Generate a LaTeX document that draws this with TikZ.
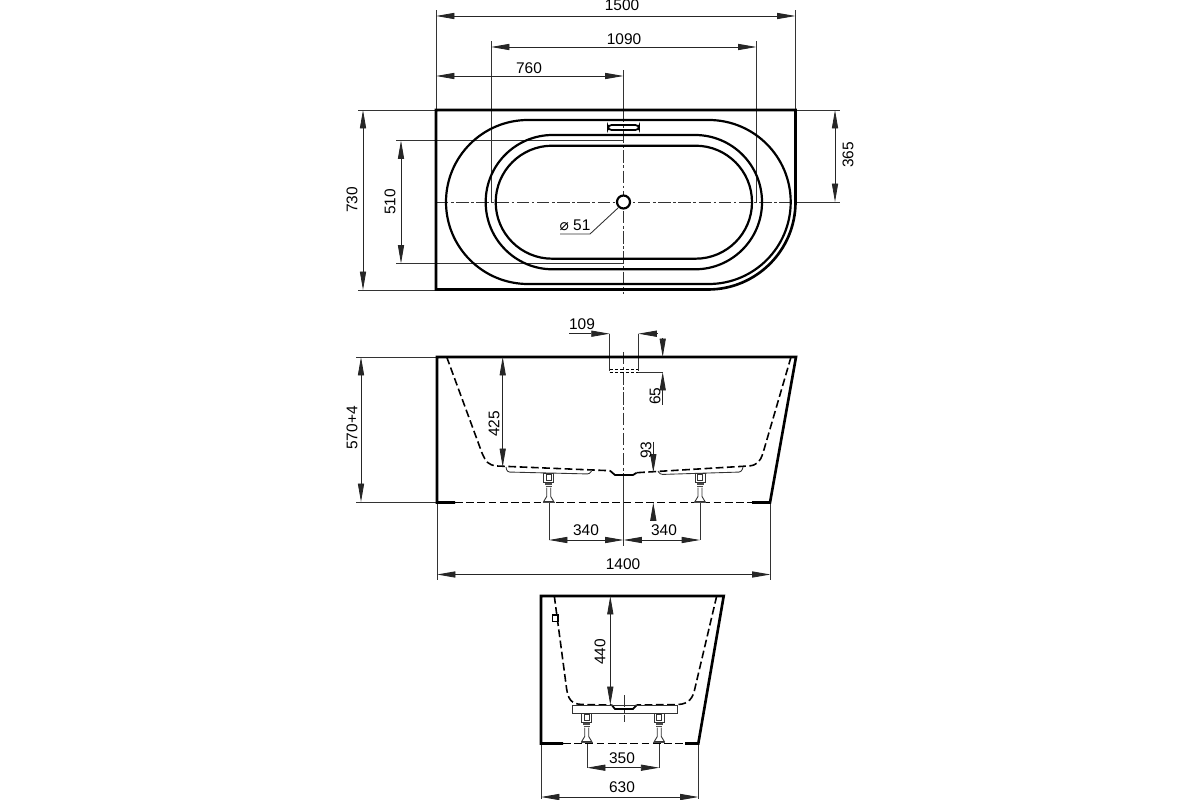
\documentclass[tikz,border=0pt]{standalone}
\usepackage{fontspec}
\setmainfont{Liberation Sans}
\newfontfamily\symfont{DejaVu Sans}
\usetikzlibrary{arrows.meta}

\tikzstyle{outline} = [draw=black, line width=1.5pt, line join=miter]
\tikzstyle{rim} = [draw=black, line width=1.25pt]
\tikzstyle{hidden} = [draw=black, line width=0.9pt, dash pattern=on 4.4pt off 2pt]
\tikzstyle{thinline} = [draw=black!80, line width=0.5pt]
\tikzstyle{centerline} = [draw=black!80, line width=0.5pt,
  dash pattern=on 7pt off 1.5pt on 1.5pt off 1.5pt]
\tikzstyle{dimline} = [draw=black!85, line width=0.5pt,
  {Triangle[length=10.5pt,width=3.5pt]}-{Triangle[length=10.5pt,width=3.5pt]}]
\tikzstyle{tipend} = [draw=black!85, line width=0.5pt,
  -{Triangle[length=10.5pt,width=3.5pt]}]
\tikzstyle{dimtext} = [font=\fontsize{8.8}{10}\selectfont, inner sep=0pt, text=black]

% one foot below the bath, #1 = x, #2 = y of its top
\newcommand{\bathfoot}[2]{
  \begin{scope}[shift={(#1,#2)}]
    \draw[thinline] (-5,0) rectangle (5,9);
    \draw[thinline] (-2.5,1) rectangle (2.5,7);
    \draw[draw=black!70, line width=1pt] (-3.5,10.5) -- (3.5,10.5);
    \draw[draw=black!70, line width=1pt] (-3,13) -- (3,13);
    \draw[thinline] (-2,14) -- (-2,23) -- (-5,28) -- (5,28) -- (2,23) -- (2,14);
    \draw[draw=black!70, line width=1pt] (-6,29) -- (6,29);
  \end{scope}
}

\begin{document}
\begin{tikzpicture}[x=0.02cm,y=-0.02cm]
        \useasboundingbox (0,0) rectangle (1200,800);

        % top view
        \draw[thinline] (436,110) -- (436,10);
        \draw[thinline] (795.5,110) -- (795.5,10);
        \draw[thinline] (491,202) -- (491,41);
        \draw[thinline] (756.5,202) -- (756.5,41);
        \draw[thinline] (623.5,110) -- (623.5,70);
        \draw[thinline] (436,110) -- (358,110);
        \draw[thinline] (436,290) -- (358,290);
        \draw[thinline] (623.5,140.5) -- (396,140.5);
        \draw[thinline] (623.5,263.5) -- (396,263.5);
        \draw[thinline] (795.5,110) -- (840,110);
        \draw[thinline] (795.5,202) -- (840,202);
        \draw[centerline] (436,202) -- (795.5,202);
        \draw[centerline] (623.5,110) -- (623.5,294);

        \draw[outline] (436,110) -- (795.5,110) -- (795.5,202)
          .. controls (795.5,250.3) and (756.3,289.5) .. (708,289.5) -- (436,289.5) -- cycle;
        \draw[rim, rounded corners=1.64cm] (446,120) rectangle (790.7,284);
        \draw[rim, rounded corners=1.34cm] (485.7,135) rectangle (762,269.3);
        \draw[rim, rounded corners=1.13cm] (495.7,145.7) rectangle (752,258.7);
        \draw[rim, line width=1pt, rounded corners=2pt] (608,125) rectangle (639,130);
        \draw[rim, fill=white] (623.5,202) circle (6.5);

        \draw[dimline] (436,16) -- (795.5,16);
        \draw[dimline] (491,47) -- (756.5,47);
        \draw[dimline] (436,76) -- (623.5,76);
        \draw[dimline] (363,110) -- (363,290);
        \draw[dimline] (401,140.5) -- (401,263.5);
        \draw[dimline] (835,110) -- (835,202);
        \draw[thinline] (618,208) -- (590,234) -- (560,234);

        \node[dimtext]             (len1500) at (622,5)   {1500};
        \node[dimtext]             (len1090) at (624,39)  {1090};
        \node[dimtext]             (len760)  at (529,68)  {760};
        \node[dimtext, rotate=90]  (wid730)  at (352,200) {730};
        \node[dimtext, rotate=90]  (wid510)  at (390,202) {510};
        \node[dimtext, rotate=90]  (wid365)  at (848,155) {365};
        \node[dimtext]             (dia51)   at (575,225) {{\symfont ⌀} 51};

        % side view
        \draw[thinline] (437,357) -- (356,357);
        \draw[thinline] (437,502) -- (356,502);
        \draw[thinline] (437,502) -- (437,580);
        \draw[thinline] (770.5,502) -- (770.5,580);
        \draw[thinline] (549,502) -- (549,540);
        \draw[thinline] (700,502) -- (700,540);
        \draw[thinline] (623.5,475) -- (623.5,546);
        \draw[centerline] (623.5,352) -- (623.5,475);
        \draw[thinline] (609.7,333.7) -- (609.7,371);
        \draw[thinline] (638.3,333.7) -- (638.3,371);
        \draw[thinline] (638.3,372) -- (662.7,372);

        \draw[outline] (455,502.5) -- (437,502.5) -- (437,357) -- (796,357) -- (770,502.5) -- (752,502.5);
        \draw[hidden] (455,502.5) -- (752,502.5);
        \draw[hidden] (446.7,357) -- (482,453) .. controls (486,462) and (488,465) .. (497,466) -- (610,470.7);
        \draw[rim, line width=1pt] (610,470.7) -- (615,475) -- (633,475) -- (636.7,472.7);
        \draw[hidden] (791,357) -- (763,453) .. controls (760,462) and (757,465.5) .. (748,466) -- (636.7,472.7);
        \draw[hidden, line width=0.5pt, dash pattern=on 2pt off 1pt] (609.7,369) -- (638.3,369);
        \draw[hidden, line width=0.5pt, dash pattern=on 2pt off 1pt] (609.7,372.7) -- (638.3,372.7);

        \draw[thinline, rounded corners=1.5pt] (506,467) -- (507,472) -- (590,474) -- (591.5,471);
        \draw[thinline, rounded corners=1.5pt] (658,471) -- (660,474.5) -- (741.5,472) -- (743,467);
        \bathfoot{548.7}{473.5}
        \bathfoot{700}{473.5}

        \draw[tipend] (569,333.7) -- (609.7,333.7);
        \draw[tipend] (657,333.7) -- (638.3,333.7);
        \draw[tipend] (662.7,338) -- (662.7,357);
        \draw[tipend] (662.7,405) -- (662.7,372);
        \draw[tipend] (653.3,441.7) -- (653.3,472.5);
        \draw[tipend] (653.3,518) -- (653.3,502.5);
        \draw[dimline] (502.7,357) -- (502.7,467);
        \draw[dimline] (361,357) -- (361,502);
        \draw[dimline] (549,540) -- (623.5,540);
        \draw[dimline] (623.5,540) -- (700,540);
        \draw[dimline] (437,574.5) -- (770.5,574.5);

        \node[dimtext]             (len109)  at (582,324) {109};
        \node[dimtext, rotate=90]  (dep65)   at (655,396) {65};
        \node[dimtext, rotate=90]  (dep425)  at (494,424) {425};
        \node[dimtext, rotate=90]  (dep93)   at (646,450) {93};
        \node[dimtext, rotate=90]  (hgt570)  at (352,428) {570+4};
        \node[dimtext]             (len340a) at (586,530) {340};
        \node[dimtext]             (len340b) at (664,530) {340};
        \node[dimtext]             (len1400) at (623,564) {1400};

        % end view
        \draw[thinline] (541,744) -- (541,799);
        \draw[thinline] (698.5,744) -- (698.5,799);
        \draw[thinline] (587,744) -- (587,768);
        \draw[thinline] (659.3,744) -- (659.3,768);
        \draw[centerline] (624.7,695) -- (624.7,722);

        \draw[outline] (563,743.5) -- (541,743.5) -- (541,596) -- (723.7,596) -- (698.3,743.5) -- (685,743.5);
        \draw[hidden] (563,743.5) -- (685,743.5);
        \draw[hidden] (554.3,596) -- (566.5,688) .. controls (568,699) and (571,704) .. (582,704.5) -- (611.7,705);
        \draw[rim, line width=1pt] (611.7,705) -- (615,709) -- (633,709) -- (636.7,705);
        \draw[hidden] (716.7,596) -- (695,688) .. controls (693,698) and (689,704) .. (678,704.5) -- (636.7,705);
        \draw[draw=black, line width=1pt, fill=white] (552.5,615) rectangle (558,621.5);

        \draw[thinline] (572.7,705.7) rectangle (677.3,713.3);
        \bathfoot{586.7}{713.5}
        \bathfoot{659.3}{713.5}

        \draw[dimline] (610.3,596) -- (610.3,705);
        \draw[dimline] (587,767.7) -- (659.3,767.7);
        \draw[dimline] (541,797) -- (698.5,797);

        \node[dimtext, rotate=90]  (dep440)  at (600,652) {440};
        \node[dimtext]             (len350)  at (622,758) {350};
        \node[dimtext]             (len630)  at (622,787) {630};
      \end{tikzpicture}
\end{document}
